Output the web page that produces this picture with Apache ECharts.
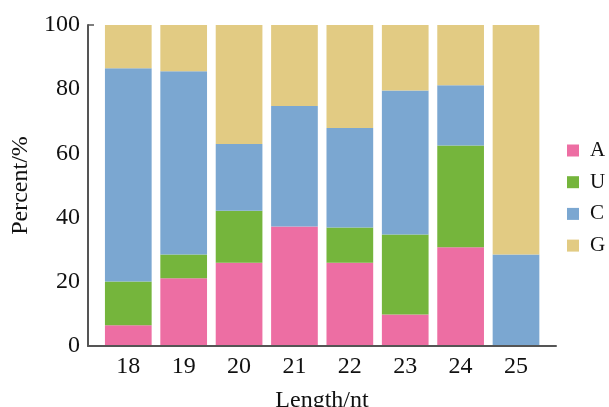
<!DOCTYPE html>
<html>
<head>
<meta charset="utf-8">
<script src="https://cdn.jsdelivr.net/npm/echarts@6/dist/echarts.min.js"></script>
<style>
html,body{margin:0;padding:0;background:#fff;}
#c{width:609px;height:407px;}
</style>
</head>
<body>
<div id="c"></div>
<script>
const categories = ['18','19','20','21','22','23','24','25'];
const seriesA = [6.5, 21.1, 25.9, 37.2, 25.9, 9.8, 30.8, 0];
const seriesU = [13.6, 7.4, 16.2, 0, 11.0, 24.9, 31.7, 0];
const seriesC = [66.4, 57.1, 20.8, 37.6, 31.0, 44.9, 18.7, 28.5];
const seriesG = [13.5, 14.4, 37.1, 25.2, 32.1, 20.4, 18.8, 71.5];
const yTicks = [0, 20, 40, 60, 80, 100];

const FONT = 'Liberation Serif';
const colors = {A:'#ED6EA3', U:'#75B53C', C:'#7BA7D1', G:'#E2CB83'};

const chart = echarts.init(document.getElementById('c'), null, {renderer:'canvas'});
function bar(name, data){
  return {
    name: name, type:'bar', stack:'total', data:data,
    xAxisIndex:1, yAxisIndex:1,
    barWidth: 46.7,
    itemStyle:{color:colors[name]},
    emphasis:{disabled:true}
  };
}
chart.setOption({
  animation:false,
  backgroundColor:'#ffffff',
  grid:[
    {left:88, right:53, top:25, bottom:61, outerBoundsMode:'none', containLabel:false},
    {left:100.6, width:443.1, top:25, bottom:61, outerBoundsMode:'none', containLabel:false}
  ],
  xAxis:[
    {type:'value', gridIndex:0, min:0, max:1, show:true, z:5,
     axisLine:{show:true, lineStyle:{color:'#555', width:2}},
     axisTick:{show:false}, axisLabel:{show:false}, splitLine:{show:false},
     name:'Length/nt', nameLocation:'middle', nameGap:43,
     nameTextStyle:{fontFamily:FONT, fontSize:24, color:'#111'}},
    {type:'category', gridIndex:1, data:categories,
     axisLine:{show:false}, axisTick:{show:false},
     axisLabel:{fontFamily:FONT, fontSize:24, color:'#111', margin:9}}
  ],
  yAxis:[
    {type:'value', gridIndex:0, min:yTicks[0], max:yTicks[yTicks.length-1], interval:20, z:5,
     axisLine:{show:true, lineStyle:{color:'#555', width:2}},
     axisTick:{show:false}, splitLine:{show:false},
     axisLabel:{fontFamily:FONT, fontSize:24, color:'#111', margin:8},
     name:'Percent/%', nameLocation:'middle', nameGap:55, nameRotate:90,
     nameTextStyle:{fontFamily:FONT, fontSize:24, color:'#111'}},
    {type:'value', gridIndex:1, min:0, max:100, show:false},
    {type:'value', gridIndex:0, position:'left', min:0, max:100, interval:100, z:5,
     axisLine:{show:false}, axisLabel:{show:false}, splitLine:{show:false},
     axisTick:{show:true, inside:true, length:6, lineStyle:{color:'#555', width:1.5}}}
  ],
  legend:{
    orient:'vertical', left:567, top:140, padding:0,
    itemWidth:12, itemHeight:12, itemGap:10.7,
    icon:'rect',
    textStyle:{fontFamily:FONT, fontSize:21, color:'#111', lineHeight:20, padding:[0,0,0,6]},
    data:['A','U','C','G']
  },
  series:[bar('A',seriesA), bar('U',seriesU), bar('C',seriesC), bar('G',seriesG)]
});
</script>
</body>
</html>
